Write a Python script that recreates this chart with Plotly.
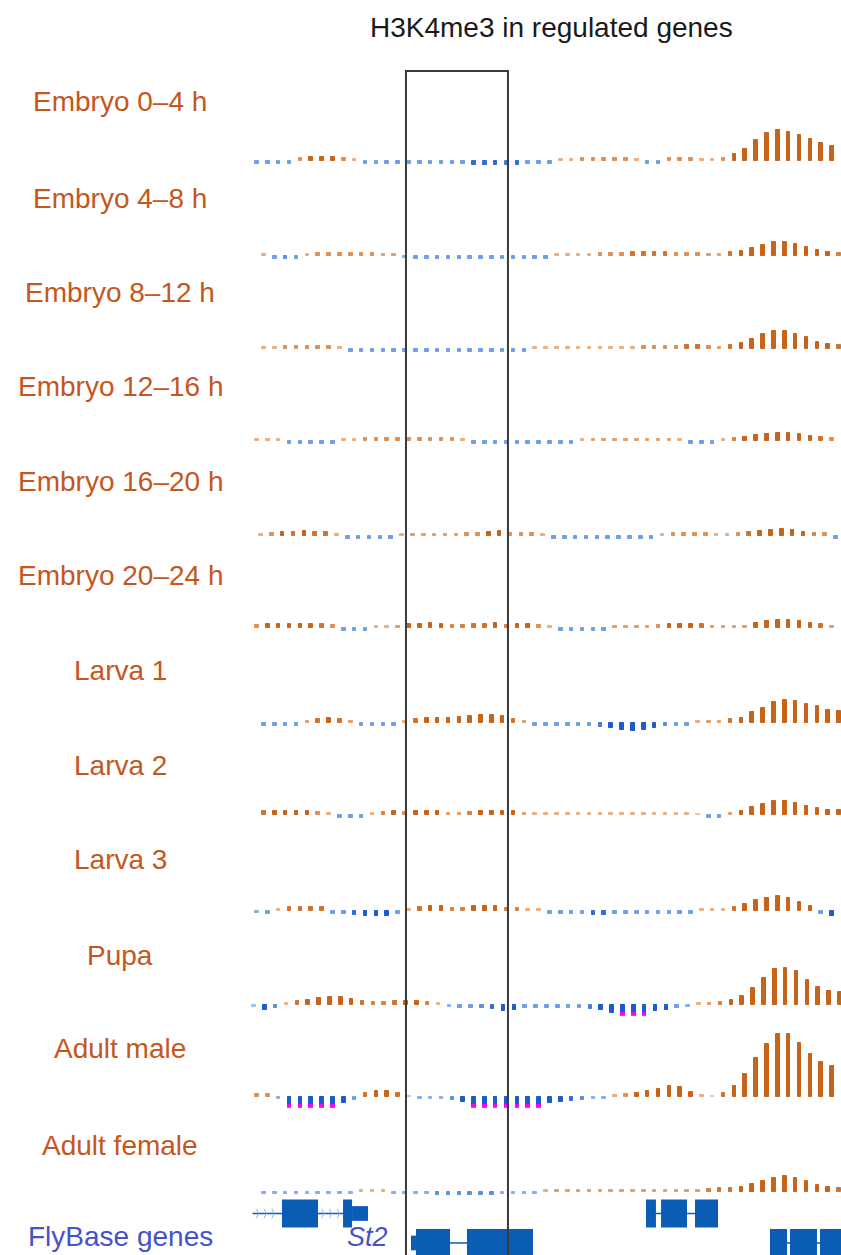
import numpy as np
import plotly.graph_objects as go

# ---------------------------------------------------------------- data
TRACK_NAMES = [
    "Embryo 0–4 h", "Embryo 4–8 h", "Embryo 8–12 h", "Embryo 12–16 h",
    "Embryo 16–20 h", "Embryo 20–24 h", "Larva 1", "Larva 2", "Larva 3",
    "Pupa", "Adult male", "Adult female",
]

emb_0_4 = [-0.25, -0.25, -0.25, -0.25, 0.3, 0.45, 0.45, 0.45, 0.3, 0.2,
           -0.25, -0.25, -0.25, -0.25, -0.25, -0.25, -0.25, -0.25, -0.25, -0.25,
           -0.4, -0.4, -0.4, -0.35, -0.4, -0.25, -0.25, -0.25, 0.2, 0.2,
           0.3, 0.3, 0.3, 0.3, 0.3, 0.2, -0.25, -0.25, 0.3, 0.3,
           0.3, 0.2, 0.2, 0.3, 0.7, 1.2, 2.1, 2.8, 3.1, 2.9,
           2.6, 2.2, 1.8, 1.5]
emb_4_8 = [0.2, -0.25, -0.3, -0.25, 0.2, 0.3, 0.3, 0.3, 0.3, 0.3,
           0.3, 0.25, 0.25, -0.2, -0.25, -0.25, -0.25, -0.25, -0.25, -0.25,
           -0.25, -0.25, -0.25, -0.25, -0.25, -0.25, -0.25, 0.2, 0.2, 0.2,
           0.2, 0.3, 0.3, 0.3, 0.4, 0.4, 0.4, 0.4, 0.3, 0.3,
           0.3, 0.25, 0.25, 0.4, 0.5, 0.8, 1.1, 1.4, 1.4, 1.2,
           0.9, 0.6, 0.45, 0.35]
emb_8_12 = [0.2, 0.2, 0.3, 0.3, 0.3, 0.3, 0.3, 0.2, -0.25, -0.25,
            -0.25, -0.25, -0.25, -0.25, -0.25, -0.25, -0.25, -0.25, -0.25, -0.25,
            -0.25, -0.25, -0.25, -0.25, -0.25, 0.2, 0.2, 0.2, 0.2, 0.2,
            0.2, 0.2, 0.2, 0.2, 0.2, 0.3, 0.3, 0.3, 0.3, 0.4,
            0.4, 0.3, 0.25, 0.4, 0.6, 1.0, 1.5, 1.8, 1.8, 1.5,
            1.2, 0.7, 0.55, 0.4]
emb_12_16 = [0.2, 0.2, 0.2, -0.25, -0.25, -0.25, -0.25, -0.25, 0.2, 0.2,
             0.3, 0.3, 0.3, 0.3, 0.3, 0.3, 0.3, 0.3, 0.3, 0.2,
             -0.25, -0.25, -0.25, -0.25, -0.25, -0.25, -0.25, -0.25, -0.25, -0.25,
             0.2, 0.25, 0.25, 0.25, 0.25, 0.25, 0.25, 0.25, 0.25, 0.2,
             -0.25, -0.25, -0.25, 0.2, 0.35, 0.45, 0.6, 0.75, 0.85, 0.85,
             0.7, 0.5, 0.4, 0.3]
emb_16_20 = [0.2, 0.3, 0.45, 0.4, 0.5, 0.4, 0.4, 0.2, -0.25, -0.25,
             -0.25, -0.25, -0.25, 0.2, 0.25, 0.25, 0.25, 0.25, 0.25, 0.3,
             0.3, 0.45, 0.5, 0.3, 0.3, 0.3, 0.2, -0.25, -0.25, -0.25,
             -0.25, -0.25, -0.25, -0.25, -0.25, -0.25, -0.25, 0.2, 0.3, 0.3,
             0.3, 0.3, 0.2, 0.2, 0.3, 0.4, 0.5, 0.6, 0.75, 0.6,
             0.45, 0.35, 0.3, -0.25]
emb_20_24 = [0.3, 0.45, 0.45, 0.45, 0.45, 0.45, 0.4, 0.3, -0.25, -0.25,
             -0.25, 0.2, 0.2, 0.25, 0.45, 0.45, 0.5, 0.45, 0.35, 0.35,
             0.4, 0.4, 0.5, 0.35, 0.45, 0.45, 0.3, 0.2, -0.25, -0.25,
             -0.25, -0.25, -0.25, 0.25, 0.25, 0.25, 0.25, 0.3, 0.45, 0.45,
             0.45, 0.4, 0.25, 0.25, 0.25, 0.25, 0.55, 0.7, 0.85, 0.85,
             0.7, 0.5, 0.4, 0.25]
larva_1 = [-0.25, -0.25, -0.25, -0.25, 0.25, 0.4, 0.5, 0.4, 0.25, -0.25,
           -0.25, -0.25, -0.25, 0.2, 0.4, 0.5, 0.55, 0.55, 0.6, 0.75,
           0.85, 0.85, 0.7, 0.4, 0.25, -0.25, -0.25, -0.25, -0.25, -0.25,
           -0.25, -0.35, -0.45, -0.7, -0.75, -0.7, -0.45, -0.3, -0.25, -0.25,
           0.2, 0.25, 0.25, 0.4, 0.55, 1.1, 1.5, 2.1, 2.35, 2.2,
           1.95, 1.7, 1.35, 1.25]
larva_2 = [0.4, 0.45, 0.45, 0.45, 0.45, 0.3, 0.2, -0.25, -0.25, -0.25,
           0.2, 0.35, 0.45, 0.3, 0.45, 0.45, 0.45, 0.25, 0.25, 0.35,
           0.45, 0.45, 0.45, 0.45, 0.25, 0.2, 0.2, 0.2, 0.2, 0.2,
           0.2, 0.2, 0.2, 0.2, 0.2, 0.2, 0.2, 0.2, 0.2, 0.2,
           0.15, -0.25, -0.25, 0.25, 0.45, 0.85, 1.15, 1.4, 1.4, 1.25,
           0.9, 0.75, 0.55, 0.5]
larva_3 = [-0.2, -0.25, 0.2, 0.4, 0.4, 0.4, 0.4, -0.25, -0.25, -0.4,
           -0.45, -0.45, -0.45, -0.25, 0.2, 0.4, 0.5, 0.5, 0.35, 0.35,
           0.5, 0.5, 0.5, 0.35, 0.35, 0.2, 0.2, -0.25, -0.25, -0.25,
           -0.25, -0.4, -0.4, -0.25, -0.25, -0.25, -0.25, -0.25, -0.25, -0.25,
           -0.25, 0.2, 0.2, 0.2, 0.4, 0.7, 1.1, 1.35, 1.5, 1.35,
           0.95, 0.55, -0.25, -0.45]
pupa = [-0.15, -0.5, -0.3, 0.2, 0.4, 0.55, 0.7, 0.8, 0.8, 0.6,
        0.4, 0.35, 0.35, 0.4, 0.45, 0.45, 0.35, 0.2, -0.2, -0.25,
        -0.25, -0.3, -0.4, -0.55, -0.45, -0.25, -0.25, -0.25, -0.25, -0.25,
        -0.25, -0.35, -0.45, -0.75, -1.3, -1.3, -1.3, -0.6, -0.45, -0.25,
        -0.2, 0.2, 0.25, 0.35, 0.5, 0.95, 1.75, 2.75, 3.65, 3.75,
        3.4, 2.55, 1.85, 1.45, 1.35]
adult_male = [0.3, 0.3, -0.2, -1.3, -1.3, -1.3, -1.3, -1.3, -0.6, -0.25,
              0.4, 0.65, 0.65, 0.4, 0.15, -0.2, -0.2, -0.2, -0.3, -0.45,
              -1.3, -1.3, -1.3, -1.3, -1.3, -1.3, -1.3, -0.6, -0.45, -0.4,
              -0.3, -0.2, -0.2, 0.2, 0.3, 0.45, 0.65, 0.85, 1.1, 1.0,
              0.55, 0.2, 0.15, 0.4, 1.15, 2.35, 3.9, 5.3, 6.3, 6.3,
              5.45, 4.3, 3.55, 3.15]
adult_female = [-0.2, -0.2, -0.2, -0.2, -0.2, -0.2, -0.2, -0.2, -0.2, 0.2,
                0.2, 0.2, -0.2, -0.2, -0.2, -0.2, -0.3, -0.3, -0.3, -0.3,
                -0.3, -0.3, -0.2, -0.2, -0.2, -0.2, 0.2, 0.25, 0.25, 0.25,
                0.25, 0.25, 0.25, 0.25, 0.25, 0.25, 0.25, 0.25, 0.25, 0.25,
                0.25, 0.35, 0.4, 0.4, 0.5, 0.85, 1.15, 1.45, 1.6, 1.45,
                1.1, 0.75, 0.5, 0.4]

TRACK_VALUES = [emb_0_4, emb_4_8, emb_8_12, emb_12_16, emb_16_20, emb_20_24,
                larva_1, larva_2, larva_3, pupa, adult_male, adult_female]

# FlyBase gene models, in bin units: (start, end, kind)
gene_a_exons = [(2.30, 5.62, "cds"), (7.93, 8.76, "cds"), (8.76, 10.23, "utr")]
gene_a_span = (-0.4, 10.23)
st2_exons = [(14.19, 14.65, "utr"), (14.65, 17.79, "cds"), (19.35, 25.44, "cds")]
st2_span = (14.19, 25.44)
gene_c_exons = [(35.85, 36.77, "cds"), (37.24, 39.63, "cds"), (40.37, 42.49, "cds")]
gene_c_span = (35.85, 42.49)
gene_d_exons = [(47.28, 48.85, "cds"), (49.12, 51.61, "cds"), (51.89, 54.6, "cds")]
gene_d_span = (47.28, 54.6)

GENES = [
    dict(name="", row=0, span=gene_a_span, exons=gene_a_exons, strand_marks=True),
    dict(name="St2", row=1, span=st2_span, exons=st2_exons, strand_marks=False),
    dict(name="", row=0, span=gene_c_span, exons=gene_c_exons, strand_marks=False),
    dict(name="", row=1, span=gene_d_span, exons=gene_d_exons, strand_marks=False),
]

HIGHLIGHT = (13.73, 23.13)   # boxed region, bin units

# ---------------------------------------------------------------- layout constants
W, H = 841, 1255
BIN_PX = 10.85
X0_PX = 257
TRACK_SHIFT_PX = [0, 7, 7, 0, 4, 0, 7, 7, 0, -3, 0, 7]
BASELINE_PX = [161, 256, 349, 441, 536, 628, 723, 815, 911, 1005, 1097, 1192]
LABEL_Y_PX = [102, 198, 293, 386, 481, 575, 670, 765, 859, 955, 1048, 1145]
PX_PER_UNIT = 10.0
VIEW_MIN, VIEW_MAX = -1.05, 6.6
BAR_W = 0.33

FONT = "Liberation Sans, Arial, sans-serif"
TEXT_SIZE = 28
LABEL_COLOR = "#c4571d"
GENE_COLOR = "#0b5cb5"
GENE_LABEL_COLOR = "#4552c9"

POS_LIGHT, POS_DARK = (241, 190, 148), (200, 100, 26)
NEG_LIGHT, NEG_DARK = (156, 193, 241), (26, 91, 208)


def bar_colour(v):
    t = min(max((abs(v) - 0.15) / 0.3, 0.0), 1.0)
    lo, hi = (POS_LIGHT, POS_DARK) if v >= 0 else (NEG_LIGHT, NEG_DARK)
    r, g, b = (round(a + (c - a) * t) for a, c in zip(lo, hi))
    return f"rgb({r},{g},{b})"


def paper_y(py):
    return 1 - py / H


fig = go.Figure()
layout_axes = {}

for k, (name, vals) in enumerate(zip(TRACK_NAMES, TRACK_VALUES)):
    ax = "y" if k == 0 else f"y{k + 1}"
    vals = np.asarray(vals, dtype=float)
    xs = TRACK_SHIFT_PX[k] / BIN_PX + np.arange(len(vals))
    shown = np.clip(vals, VIEW_MIN, None)
    colours = [bar_colour(v) for v in vals]
    fig.add_trace(go.Bar(
        x=xs, y=shown, width=BAR_W, yaxis=ax, xaxis="x",
        marker=dict(color=colours, line=dict(width=1, color=colours)),
        showlegend=False, hoverinfo="skip", name=name,
    ))
    clipped = vals < VIEW_MIN
    if clipped.any():
        fig.add_trace(go.Bar(
            x=xs[clipped], y=[0.3] * int(clipped.sum()), base=VIEW_MIN,
            width=BAR_W, yaxis=ax, xaxis="x",
            marker=dict(color="#ff00ff", line=dict(width=1, color="#ff00ff")),
            showlegend=False, hoverinfo="skip",
        ))
    b = BASELINE_PX[k]
    top_px = b - VIEW_MAX * PX_PER_UNIT
    bot_px = b - VIEW_MIN * PX_PER_UNIT
    key = "yaxis" if k == 0 else f"yaxis{k + 1}"
    layout_axes[key] = dict(domain=[paper_y(bot_px), paper_y(top_px)],
                            range=[VIEW_MIN, VIEW_MAX], visible=False,
                            fixedrange=True, anchor="x")

# gene track axis: row 0 centred at 1213.5 px, row 1 at 1243 px
GENE_AX = f"y{len(TRACK_NAMES) + 1}"
ROW0_PX, ROW_STEP_PX = 1213.5, 29.5
g_top, g_bot = 1184, H
layout_axes[f"yaxis{len(TRACK_NAMES) + 1}"] = dict(
    domain=[paper_y(g_bot), paper_y(g_top)],
    range=[(g_bot - ROW0_PX) / ROW_STEP_PX, (g_top - ROW0_PX) / ROW_STEP_PX],
    visible=False, fixedrange=True, anchor="x")

shapes = []
annotations = []
CDS_HALF, UTR_HALF = 0.475, 0.25
for g in GENES:
    r = g["row"]
    fig.add_trace(go.Scatter(
        x=list(g["span"]), y=[r, r], mode="lines", xaxis="x", yaxis=GENE_AX,
        line=dict(color=GENE_COLOR, width=1.5), showlegend=False, hoverinfo="skip"))
    for s, e, kind in g["exons"]:
        h = CDS_HALF if kind == "cds" else UTR_HALF
        shapes.append(dict(type="rect", xref="x", yref=GENE_AX,
                           x0=s, x1=e, y0=r - h, y1=r + h,
                           fillcolor=GENE_COLOR, line=dict(width=0), layer="above"))
    if g["strand_marks"]:
        # chevrons along the introns
        cx, cy = [], []
        starts = [g["span"][0]] + [e for _, e, _ in g["exons"]]
        ends = [s for s, _, _ in g["exons"]] + [g["span"][1]]
        for a, bnd in zip(starts, ends):
            if bnd - a < 1.2:
                continue
            for c in np.arange(a + 0.55, bnd - 0.2, 0.72):
                cx += [c - 0.22, c, c - 0.22, None]
                cy += [r - 0.16, r, r + 0.16, None]
        fig.add_trace(go.Scatter(
            x=cx, y=cy, mode="lines", xaxis="x", yaxis=GENE_AX,
            line=dict(color="#8db5e8", width=1), showlegend=False, hoverinfo="skip"))
    if g["name"]:
        annotations.append(dict(
            x=g["span"][0] - 1.9, y=r - 0.2, xref="x", yref=GENE_AX,
            text=f"<i>{g['name']}</i>", showarrow=False, xanchor="right",
            yanchor="middle",
            font=dict(family=FONT, size=TEXT_SIZE - 1, color=GENE_LABEL_COLOR)))

# highlighted region box
shapes.append(dict(type="rect", xref="x", yref="paper",
                   x0=HIGHLIGHT[0], x1=HIGHLIGHT[1], y0=-0.02, y1=paper_y(71),
                   line=dict(color="#3a3a3a", width=2), fillcolor="rgba(0,0,0,0)",
                   layer="above"))

# track labels
for name, ly in zip(TRACK_NAMES, LABEL_Y_PX):
    annotations.append(dict(
        x=120 / W, y=paper_y(ly), xref="paper", yref="paper", text=name,
        showarrow=False, xanchor="center", yanchor="middle",
        font=dict(family=FONT, size=TEXT_SIZE, color=LABEL_COLOR)))
annotations.append(dict(
    x=120 / W, y=paper_y(1236), xref="paper", yref="paper", text="FlyBase genes",
    showarrow=False, xanchor="center", yanchor="middle",
    font=dict(family=FONT, size=TEXT_SIZE, color=GENE_LABEL_COLOR)))
annotations.append(dict(
    x=551 / W, y=paper_y(27), xref="paper", yref="paper",
    text="H3K4me3 in regulated genes", showarrow=False,
    xanchor="center", yanchor="middle",
    font=dict(family=FONT, size=TEXT_SIZE, color="#1a1a1a")))

fig.update_layout(
    width=W, height=H, autosize=False,
    margin=dict(l=0, r=0, t=0, b=0),
    paper_bgcolor="white", plot_bgcolor="rgba(0,0,0,0)",
    barmode="overlay", bargap=0,
    xaxis=dict(range=[-X0_PX / BIN_PX, (W - X0_PX) / BIN_PX], domain=[0, 1],
               visible=False, fixedrange=True),
    shapes=shapes, annotations=annotations,
    **layout_axes,
)

fig.write_html("out.html", config={"displayModeBar": False})
